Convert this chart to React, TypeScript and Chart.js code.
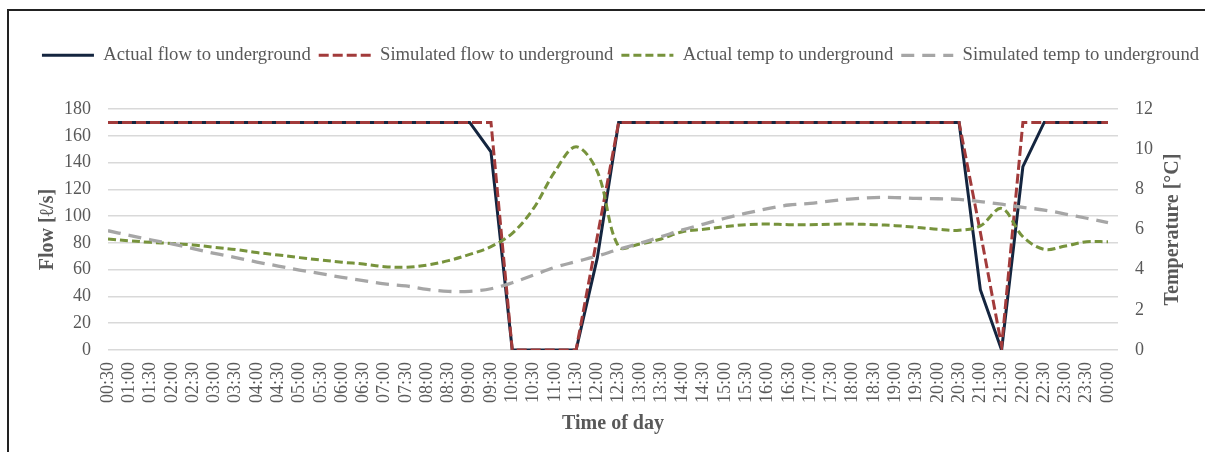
import React, { useEffect, useRef } from "react";
import { Chart, registerables } from "chart.js";

Chart.register(...registerables);

// ---- data ----
const timeLabels = [
  "00:30", "01:00", "01:30", "02:00", "02:30", "03:00", "03:30", "04:00",
  "04:30", "05:00", "05:30", "06:00", "06:30", "07:00", "07:30", "08:00",
  "08:30", "09:00", "09:30", "10:00", "10:30", "11:00", "11:30", "12:00",
  "12:30", "13:00", "13:30", "14:00", "14:30", "15:00", "15:30", "16:00",
  "16:30", "17:00", "17:30", "18:00", "18:30", "19:00", "19:30", "20:00",
  "20:30", "21:00", "21:30", "22:00", "22:30", "23:00", "23:30", "00:00",
];

const actualFlow = [
  170, 170, 170, 170, 170, 170, 170, 170, 170, 170,
  170, 170, 170, 170, 170, 170, 170, 170, 148, 0,
  0, 0, 0, 69, 170, 170, 170, 170, 170, 170,
  170, 170, 170, 170, 170, 170, 170, 170, 170, 170,
  170, 45, 0, 137, 170, 170, 170, 170,
];

const simulatedFlow = [
  170, 170, 170, 170, 170, 170, 170, 170, 170, 170,
  170, 170, 170, 170, 170, 170, 170, 170, 170, 0,
  0, 0, 0, 85, 170, 170, 170, 170, 170, 170,
  170, 170, 170, 170, 170, 170, 170, 170, 170, 170,
  170, 88, 3, 170, 170, 170, 170, 170,
];

const actualTemp = [
  5.53, 5.44, 5.36, 5.3, 5.23, 5.11, 5.0, 4.85, 4.73, 4.6,
  4.48, 4.37, 4.28, 4.15, 4.12, 4.23, 4.45, 4.76, 5.15, 5.81,
  7.05, 8.88, 10.12, 8.88, 5.15, 5.28, 5.53, 5.89, 6.01, 6.14,
  6.24, 6.27, 6.24, 6.24, 6.26, 6.27, 6.24, 6.19, 6.11, 6.01,
  5.96, 6.18, 7.05, 5.64, 5.01, 5.18, 5.39, 5.39,
];

const simulatedTemp = [
  5.94, 5.71, 5.49, 5.28, 5.05, 4.81, 4.6, 4.38, 4.18, 3.98,
  3.8, 3.62, 3.45, 3.29, 3.19, 3.02, 2.92, 2.92, 3.05, 3.35,
  3.73, 4.12, 4.4, 4.68, 5.01, 5.31, 5.64, 5.98, 6.27, 6.56,
  6.81, 7.04, 7.22, 7.3, 7.42, 7.53, 7.59, 7.59, 7.55, 7.53,
  7.5, 7.39, 7.26, 7.1, 6.97, 6.77, 6.56, 6.34,
];

const seriesNames = [
  "Actual flow to underground",
  "Simulated flow to underground",
  "Actual temp to underground",
  "Simulated temp to underground",
];

const xTitle = "Time of day";
const yTitle = "Flow [ℓ/s]";
const y1Title = "Temperature [°C]";

// ---- styling ----
const SERIF = '"Liberation Serif", "Times New Roman", serif';
const TEXT = "#595959";
const W = 1241;
const H = 452;

const toPoints = (arr: number[]) => arr.map((y, i) => ({ x: i, y }));

export default function App() {
  const ref = useRef<HTMLCanvasElement>(null);

  useEffect(() => {
    const canvas = ref.current;
    if (!canvas) return;

    const legendSpacer = {
      id: "legendSpacer",
      beforeLayout(chart: any) {
        const legend = chart.legend;
        if (legend && !legend.__patched) {
          const orig = legend.fit;
          legend.fit = function () {
            orig.call(this);
            this.height = 71;
          };
          legend.__patched = true;
        }
      },
    };

    const rightTitle = {
      id: "rightTitle",
      afterDraw(chart: any) {
        const { ctx, chartArea } = chart;
        ctx.save();
        ctx.translate(1173, (chartArea.top + chartArea.bottom) / 2);
        ctx.rotate(-Math.PI / 2);
        ctx.font = `bold 20px ${SERIF}`;
        ctx.fillStyle = TEXT;
        ctx.textAlign = "center";
        ctx.textBaseline = "middle";
        ctx.fillText(y1Title, 0, 0);
        ctx.restore();
      },
    };

    const defaultLabels = Chart.defaults.plugins.legend.labels.generateLabels;

    const chart = new Chart(canvas, {
      type: "line",
      data: {
        datasets: [
          {
            label: seriesNames[0],
            data: toPoints(actualFlow),
            yAxisID: "y",
            borderColor: "#14253f",
            backgroundColor: "#14253f",
            borderWidth: 3,
            pointRadius: 0,
            pointStyle: "line",
            tension: 0,
            order: 4,
          },
          {
            label: seriesNames[1],
            data: toPoints(simulatedFlow),
            yAxisID: "y",
            borderColor: "#a23b3b",
            backgroundColor: "#a23b3b",
            borderWidth: 3,
            borderDash: [10, 4],
            pointRadius: 0,
            pointStyle: "line",
            tension: 0,
            order: 3,
          },
          {
            label: seriesNames[2],
            data: toPoints(actualTemp),
            yAxisID: "y1",
            borderColor: "#77933c",
            backgroundColor: "#77933c",
            borderWidth: 3,
            borderDash: [8, 4],
            pointRadius: 0,
            pointStyle: "line",
            tension: 0.35,
            order: 2,
          },
          {
            label: seriesNames[3],
            data: toPoints(simulatedTemp),
            yAxisID: "y1",
            borderColor: "#a6a6a6",
            backgroundColor: "#a6a6a6",
            borderWidth: 3.3,
            borderDash: [13, 8],
            pointRadius: 0,
            pointStyle: "line",
            tension: 0.35,
            order: 1,
          },
        ],
      },
      options: {
        responsive: false,
        animation: false,
        events: [],
        layout: { padding: { top: 38, left: 0, right: 0, bottom: 0 } },
        plugins: {
          legend: {
            position: "top",
            align: "center",
            labels: {
              usePointStyle: true,
              pointStyle: "line",
              pointStyleWidth: 52,
              padding: 8,
              color: TEXT,
              font: { family: SERIF, size: 18.67 },
              sort: (a: any, b: any) => a.datasetIndex - b.datasetIndex,
              generateLabels: (ch: any) =>
                defaultLabels(ch).map((item: any) => {
                  const ds = ch.data.datasets[item.datasetIndex];
                  return {
                    ...item,
                    lineDash: ds.borderDash || [],
                    lineWidth: ds.borderWidth,
                    strokeStyle: ds.borderColor,
                    fillStyle: ds.borderColor,
                    lineCap: "butt",
                  };
                }),
            },
          },
          tooltip: { enabled: false },
        },
        scales: {
          x: {
            type: "linear",
            min: 0,
            max: 47.47,
            grid: { display: false, drawTicks: false },
            border: { display: false },
            ticks: {
              stepSize: 1,
              autoSkip: false,
              includeBounds: false,
              maxRotation: 90,
              minRotation: 90,
              padding: 12,
              color: TEXT,
              font: { family: SERIF, size: 18 },
              callback: (v: any) => timeLabels[v as number] ?? "",
            },
            title: {
              display: true,
              text: xTitle,
              color: TEXT,
              font: { family: SERIF, size: 20, weight: "bold" },
              padding: { top: 0, bottom: 16 },
            },
            afterFit: (s: any) => {
              s.height = 102;
            },
          },
          y: {
            position: "left",
            min: 0,
            max: 180,
            ticks: {
              stepSize: 20,
              padding: 17,
              color: TEXT,
              font: { family: SERIF, size: 18 },
            },
            grid: { color: "#d9d9d9", lineWidth: 1.5, drawTicks: false },
            border: { display: false },
            title: {
              display: true,
              text: yTitle,
              color: TEXT,
              font: { family: SERIF, size: 20, weight: "bold" },
              padding: { top: 36, bottom: 0 },
            },
            afterFit: (s: any) => {
              s.width = 108;
            },
          },
          y1: {
            position: "right",
            min: 0,
            max: 12,
            ticks: {
              stepSize: 2,
              padding: 17,
              color: TEXT,
              font: { family: SERIF, size: 18 },
            },
            grid: { drawOnChartArea: false, drawTicks: false },
            border: { display: false },
            afterFit: (s: any) => {
              s.width = W - 1118;
            },
          },
        },
      },
      plugins: [legendSpacer, rightTitle],
    } as any);

    return () => chart.destroy();
  }, []);

  return (
    <div
      style={{
        position: "absolute",
        left: 0,
        top: 0,
        width: 1205,
        height: 452,
        overflow: "hidden",
        background: "#fff",
      }}
    >
      <canvas
        ref={ref}
        width={W}
        height={H}
        style={{ display: "block", width: W, height: H }}
      />
      <div
        style={{
          position: "absolute",
          left: 7,
          top: 9,
          width: 1300,
          height: 600,
          borderLeft: "2px solid #222",
          borderTop: "2px solid #222",
          pointerEvents: "none",
        }}
      />
    </div>
  );
}
